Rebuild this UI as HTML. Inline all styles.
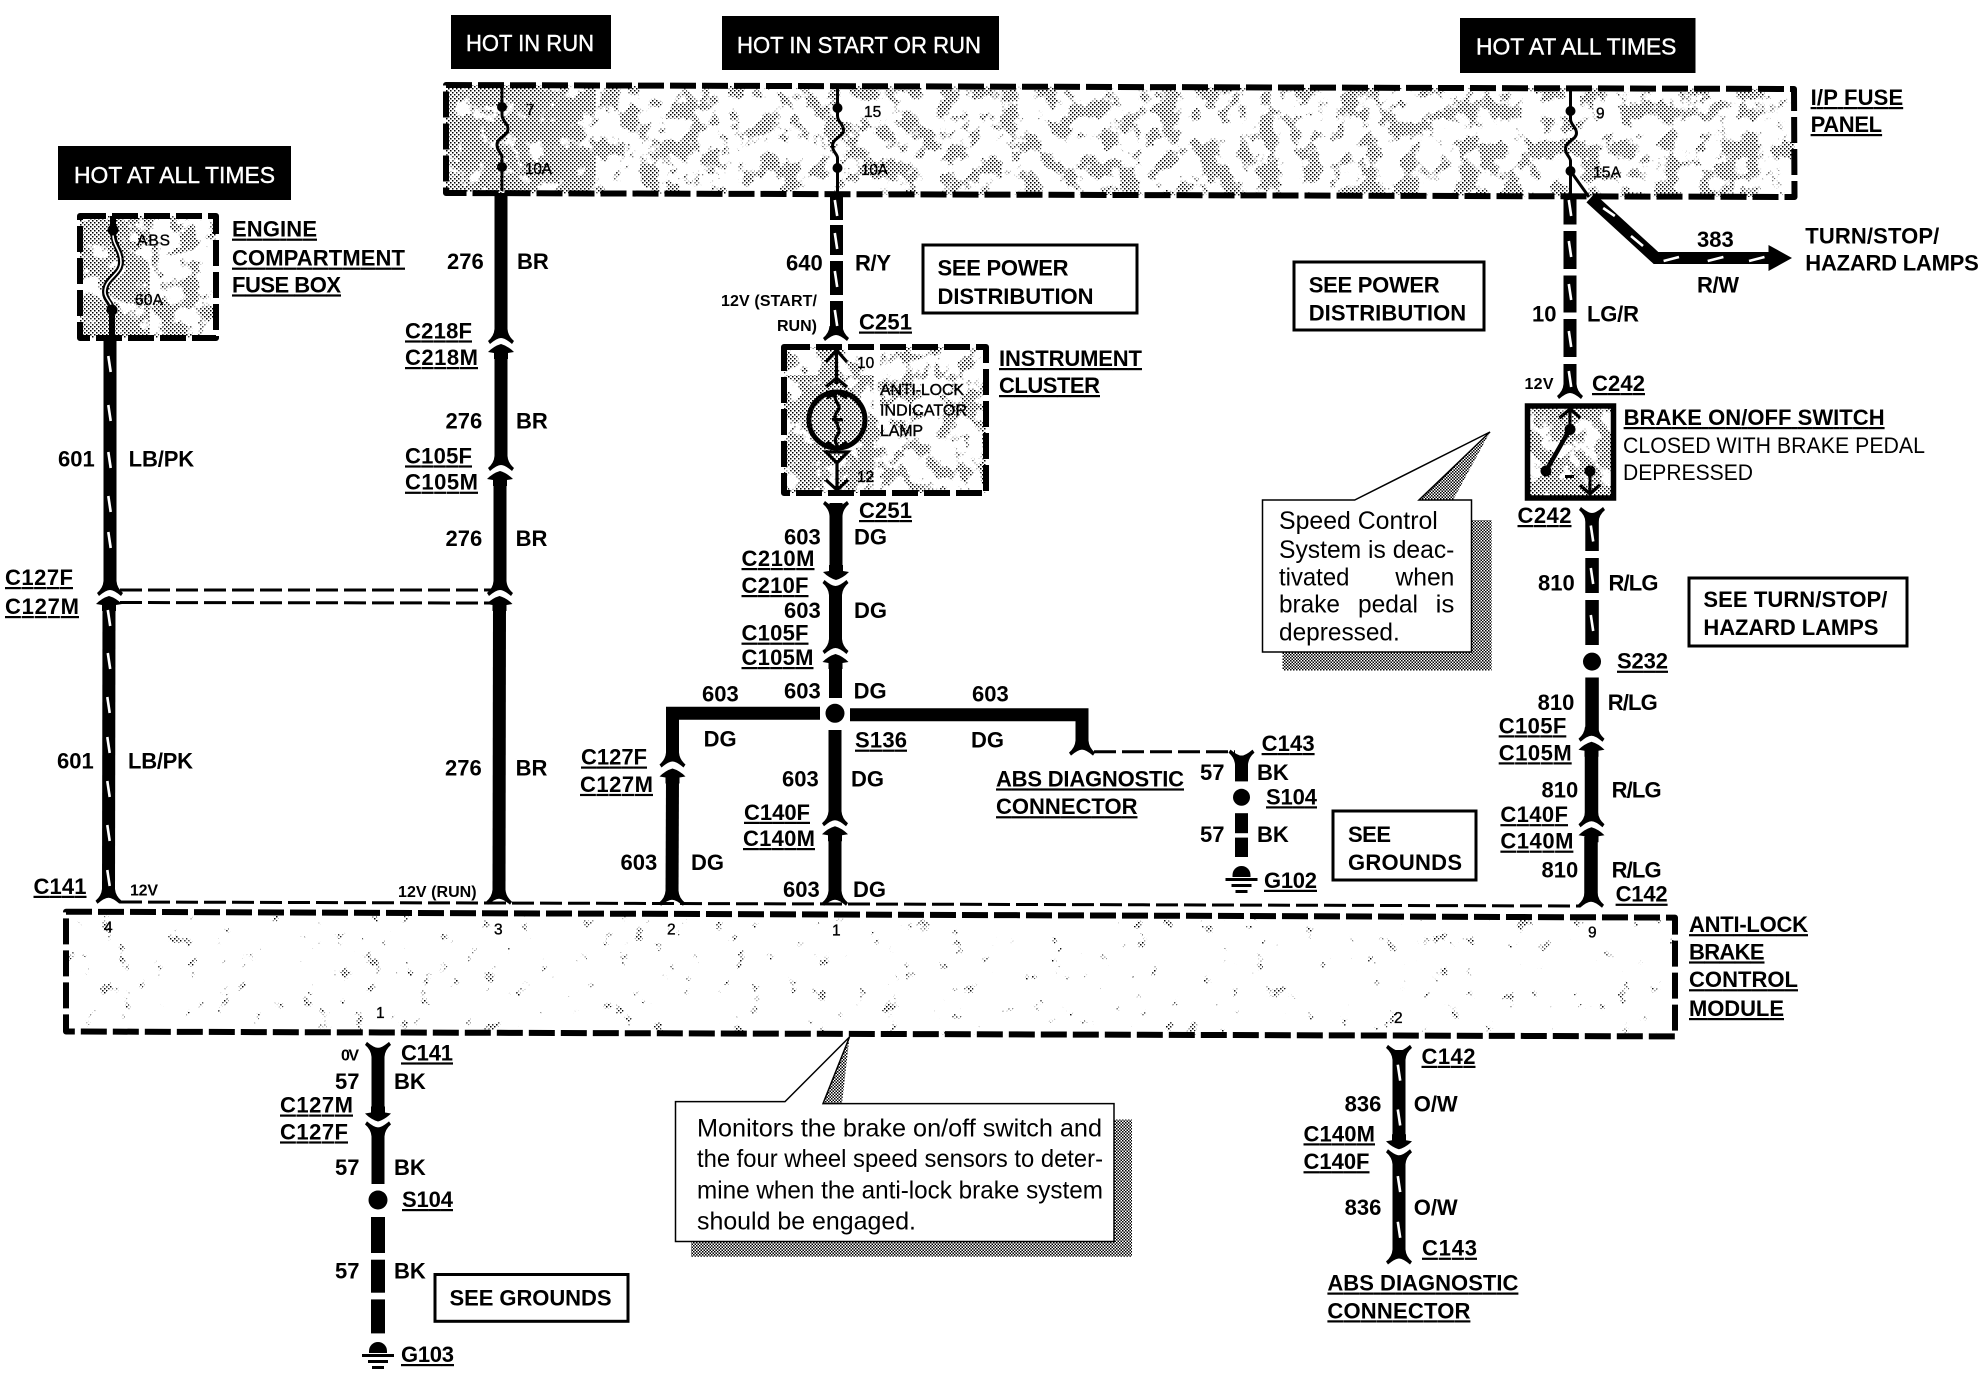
<!DOCTYPE html>
<html><head><meta charset="utf-8"><title>Anti-lock brake wiring diagram</title>
<style>
html,body{margin:0;padding:0;background:#fff}
svg{display:block}
text{font-family:"Liberation Sans",sans-serif;fill:#000}
.b{font-size:22px;font-weight:bold}
.s{font-size:14px;font-weight:bold}
.v{font-size:16px;font-weight:bold}
.f{font-size:15.500px;font-weight:normal;stroke:#000;stroke-width:.35px}
.m{font-size:16px;font-weight:normal;stroke:#000;stroke-width:.4px}
.h{font-size:23px;font-weight:normal;fill:#fff;stroke:#fff;stroke-width:.4px}
.r{font-size:25px;font-weight:normal}
.n{font-size:22px;font-weight:normal}
.u{text-decoration:underline}
.d{fill:none;stroke:#000;stroke-width:6;stroke-dasharray:26 6;stroke-linejoin:round}
.t{fill:none;stroke:#000;stroke-width:3;stroke-dasharray:22 6}
.w{stroke:#000;stroke-width:13;fill:none}
.k{stroke:#fff;stroke-width:2.600;fill:none}
.l{fill:none;stroke:#000;stroke-width:3.200}
.x{fill:#fff;stroke:#000;stroke-width:1.500}
</style></head><body>
<svg xmlns="http://www.w3.org/2000/svg" width="1986" height="1376" viewBox="0 0 1986 1376">
<defs>
<pattern id="dot" width="4" height="4" patternUnits="userSpaceOnUse"><rect width="1.500" height="1.500"/><rect x="2" y="2" width="1.500" height="1.500"/></pattern>
<pattern id="dark" width="3" height="3" patternUnits="userSpaceOnUse"><rect width="1.500" height="1.500"/><rect x="1.500" y="1.500" width="1.500" height="1.500"/></pattern>
<filter id="f1" x="0" y="0" width="100%" height="100%" color-interpolation-filters="sRGB"><feTurbulence type="fractalNoise" baseFrequency="0.05" numOctaves="4" seed="4"/><feColorMatrix values="0 0 0 0 1 0 0 0 0 1 0 0 0 0 1 14 0 0 0 -7.200"/></filter>
<filter id="f2" x="0" y="0" width="100%" height="100%" color-interpolation-filters="sRGB"><feTurbulence type="fractalNoise" baseFrequency="0.06" numOctaves="5" seed="9"/><feColorMatrix values="0 0 0 0 1 0 0 0 0 1 0 0 0 0 1 14 0 0 0 -9.800"/></filter>
<filter id="f3" x="0" y="0" width="100%" height="100%" color-interpolation-filters="sRGB"><feTurbulence type="fractalNoise" baseFrequency="0.05" numOctaves="4" seed="21"/><feColorMatrix values="0 0 0 0 1 0 0 0 0 1 0 0 0 0 1 14 0 0 0 -5.600"/></filter>
<mask id="m1" maskUnits="userSpaceOnUse" x="0" y="0" width="1986" height="1376"><rect x="0" y="0" width="1986" height="1376" filter="url(#f1)"/></mask>
<mask id="m2" maskUnits="userSpaceOnUse" x="0" y="0" width="1986" height="1376"><rect x="0" y="0" width="1986" height="1376" filter="url(#f2)"/></mask>
<mask id="m3" maskUnits="userSpaceOnUse" x="0" y="0" width="1986" height="1376"><rect x="0" y="0" width="1986" height="1376" filter="url(#f3)"/></mask>
<path id="foot" d="M-6.500,-9 L6.500,-9 Q7,-2 13,3 L11,6 Q4,0 0,0 Q-4,0 -11,6 L-13,3 Q-7,-2 -6.500,-9Z"/>
<path id="male" d="M0,0 Q7,2 13,8 L7,9 L7,15 L-7,15 L-7,9 L-13,8 Q-7,2 0,0Z"/>
<g id="fuse"><path d="M0,-23 L0,0 L0,8 C0,14 6,16 6,22 C6,29 -5,30 -5,38 C-5,44 0,46 0,50 L0,84" fill="none" stroke="#000" stroke-width="3"/><circle r="5"/><circle cy="60" r="5"/></g>
<line id="tick" x1="-1.200" y1="-8" x2="1.200" y2="8" stroke="#fff" stroke-width="2.600"/>
<g id="gnd"><path d="M-9,0 A9,9 0 0 1 9,0 L9,2 L-9,2Z"/><rect x="-16" y="3" width="32" height="3"/><rect x="-10" y="9" width="20" height="3"/><rect x="-6" y="15" width="12" height="3"/></g>
</defs>
<rect width="1986" height="1376" fill="#fff"/>

<!-- stipple regions -->
<path d="M446,85 L1794,89 L1794.500,197 L446,193Z" fill="url(#dot)" mask="url(#m1)"/>
<g mask="url(#m3)"><rect x="446" y="88" width="150" height="104" fill="url(#dot)"/><rect x="80" y="216" width="70" height="122" fill="url(#dot)"/><rect x="784" y="375" width="90" height="118" fill="url(#dot)"/><rect x="1527.500" y="406" width="86" height="92" fill="url(#dot)"/></g>
<rect x="80" y="216" width="136" height="122" fill="url(#dot)" mask="url(#m1)"/>
<rect x="784" y="347" width="202" height="146" fill="url(#dot)" mask="url(#m1)"/>
<path d="M66,911.700 L1675,917.600 L1675,1036.400 L66,1031.500Z" fill="url(#dot)" mask="url(#m2)"/>

<!-- dashed containers -->
<path class="d" d="M446,85 L1794,89 L1794.500,197 L446,193Z"/>
<rect class="d" x="80" y="216" width="136" height="122"/>
<rect class="d" x="784" y="347" width="202" height="146"/>
<path class="d" d="M66,911.700 L1675,917.600 L1675,1036.400 L66,1031.500Z"/>

<!-- black headers -->
<rect x="58" y="146" width="233" height="54"/><text class="h" x="74" y="183" textLength="201" lengthAdjust="spacingAndGlyphs">HOT AT ALL TIMES</text>
<rect x="451" y="15" width="160" height="54"/><text class="h" x="466" y="51" textLength="128" lengthAdjust="spacingAndGlyphs">HOT IN RUN</text>
<rect x="722" y="16" width="277" height="54"/><text class="h" x="737" y="53" textLength="244" lengthAdjust="spacingAndGlyphs">HOT IN START OR RUN</text>
<rect x="1460" y="18" width="235.500" height="55"/><text class="h" x="1476" y="54.500" textLength="200.400" lengthAdjust="spacingAndGlyphs">HOT AT ALL TIMES</text>

<!-- fuses -->
<use href="#fuse" x="502" y="107"/><use href="#fuse" x="837.500" y="108"/><use href="#fuse" x="1570.500" y="111"/>
<path d="M113,216 L113,231 C113,245 121,250 121,262 C121,275 105,278 105,292 C105,300 112,303 112,310 L112,338" fill="none" stroke="#000" stroke-width="6"/>
<path d="M113,235 C113,245 121,250 121,262 C121,275 105,278 105,292 C105,298 110,301 111,305" fill="none" stroke="#fff" stroke-width="1.600"/>
<circle cx="113" cy="230" r="5.500"/><circle cx="112" cy="310" r="5.500"/>
<text class="f" x="137" y="245.500" textLength="33">ABS</text><text class="f" x="135" y="305" textLength="28">60A</text>
<text class="f" x="526" y="115">7</text><text class="f" x="525" y="174" textLength="27">10A</text>
<text class="f" x="864" y="117">15</text><text class="f" x="861" y="175" textLength="27">10A</text>
<text class="f" x="1596" y="118.700">9</text><text class="f" x="1593" y="177.700" textLength="28">15A</text>

<!-- thin dashed links -->
<path class="t" d="M120,590 L491,590"/><path class="t" d="M120,602.500 L491,603"/>
<path class="t" d="M120,902 L1580,906"/>
<path class="t" d="M1094,751.700 L1235,751.700"/>

<!-- wire 601 -->
<path class="w" d="M110,338 L110,584"/><path class="w" d="M109,605 L108.500,894"/>
<use href="#foot" x="110" y="590"/><use href="#male" x="109" y="596"/><use href="#foot" x="108.500" y="897.800"/>
<use href="#tick" x="109.500" y="364"/><use href="#tick" x="109.500" y="413"/><use href="#tick" x="109.500" y="460"/><use href="#tick" x="109.500" y="504"/><use href="#tick" x="109.500" y="540"/><use href="#tick" x="109" y="618"/><use href="#tick" x="109" y="661"/><use href="#tick" x="108.500" y="705"/><use href="#tick" x="108.500" y="745"/><use href="#tick" x="108.500" y="789"/><use href="#tick" x="108.500" y="833"/><use href="#tick" x="108.500" y="878"/>

<!-- wire 276 -->
<path class="w" d="M501,193 L501,334"/><path class="w" d="M501,352 L501,460"/><path class="w" d="M500,480 L500,585"/><path class="w" d="M499.500,605 L499,894"/>
<use href="#foot" x="501" y="338"/><use href="#male" x="501" y="344"/><use href="#foot" x="501" y="465"/><use href="#male" x="500" y="471"/><use href="#foot" x="500" y="590"/><use href="#male" x="499.500" y="596"/><use href="#foot" x="499" y="898.700"/>

<!-- wire 640 -->
<g fill="#000"><rect x="830" y="194" width="13" height="26"/><rect x="830" y="225" width="13" height="30"/><rect x="830" y="261" width="13" height="34"/><rect x="830" y="301" width="13" height="32"/></g>
<use href="#foot" x="836" y="335"/>
<use href="#tick" x="836" y="208"/><use href="#tick" x="836" y="241"/><use href="#tick" x="836" y="279"/><use href="#tick" x="836" y="318"/>

<!-- cluster wiring -->
<path class="l" d="M836.500,350 L836.500,384 M826,362 L836.500,350 L847,362 M826,387 L836.500,378 L847,387"/>
<circle cx="837" cy="420" r="28" fill="#fff" stroke="#000" stroke-width="5"/><circle cx="837" cy="420" r="26" fill="url(#dot)"/>
<path class="l" d="M837,392 C830,400 844,405 837,412 C830,420 844,428 837,436 C832,442 840,446 837,449 M827,398 L837,392 L847,398 M827,442 L837,449 L847,442"/>
<rect x="832" y="418" width="11" height="3.500"/>
<path class="l" d="M826,452 L848,452 L837,463Z M837,463 L837,491 M826,480 L837,490 L848,480"/>
<text class="f" x="857" y="368">10</text><text class="f" x="857" y="482">12</text>
<text class="m" x="880" y="395" textLength="84">ANTI-LOCK</text><text class="m" x="880" y="415.600" textLength="87">INDICATOR</text><text class="m" x="880" y="436" textLength="43">LAMP</text>

<!-- wire 603 centre -->
<use href="#foot" transform="matrix(1 0 0 -1 836 507)"/>
<path class="w" d="M836,503 L836,570"/><path class="w" d="M835.500,592 L835.500,643"/><path class="w" d="M835.500,665 L835.500,698"/>
<use href="#male" transform="matrix(1 0 0 -1 836 580)"/><use href="#foot" transform="matrix(1 0 0 -1 835.500 586)"/>
<use href="#foot" x="835.500" y="648"/><use href="#male" x="835.500" y="654"/>
<circle cx="835" cy="713.300" r="9.500"/>
<path class="w" d="M820,713.300 L672.500,713.300 L672.500,757"/><path class="w" d="M850,714.800 L1082,714.800 L1082,745"/>
<use href="#foot" x="672.500" y="761.500"/><use href="#male" x="672.500" y="768.500"/><path class="w" d="M672.500,779.500 L672,895.700"/><use href="#foot" x="672" y="899.700"/>
<use href="#foot" x="1082" y="749.600"/>
<path class="w" d="M835,730 L835,815.300"/><use href="#foot" x="835" y="820.200"/><use href="#male" x="835" y="826.200"/><path class="w" d="M835,839 L835,895.700"/><use href="#foot" x="835" y="899.700"/>

<!-- right ground branch -->
<use href="#foot" transform="matrix(1 0 0 -1 1241.500 755.600)"/>
<rect x="1235" y="755.600" width="13" height="25.800"/><circle cx="1241.500" cy="797.300" r="8.500"/><rect x="1235" y="813.200" width="13" height="20"/><rect x="1235" y="837.600" width="13" height="19.400"/>
<use href="#gnd" x="1241.500" y="875"/>

<!-- wire 10 & 383 -->
<g><rect x="1563.500" y="198" width="13" height="26.500"/><rect x="1563.500" y="231" width="13" height="38"/><rect x="1563.500" y="275.500" width="13" height="37"/><rect x="1563.500" y="319" width="13" height="38"/><rect x="1563.500" y="364" width="13" height="27"/></g>
<use href="#foot" x="1570" y="393"/>
<use href="#tick" x="1570" y="208"/><use href="#tick" x="1570" y="249"/><use href="#tick" x="1570" y="292"/><use href="#tick" x="1570" y="339"/><use href="#tick" x="1570" y="379"/>
<path d="M1570.500,171 L1589,197" stroke="#000" stroke-width="3" fill="none"/>
<path d="M1590.500,198 L1656,258 L1769,258" fill="none" stroke="#000" stroke-width="12"/>
<path d="M1768.500,245 L1792,258 L1768.500,271Z"/>
<path class="k" d="M1603.200,208 L1614.800,216 M1631,236 L1643,246 M1663.600,261 L1679,257 M1707.700,261 L1723.400,257 M1749,261 L1764.500,257"/>

<!-- switch -->
<rect x="1527.500" y="406" width="86" height="92" fill="none" stroke="#000" stroke-width="5.500"/>
<path class="l" d="M1570,410 L1570,429 M1559.500,418 L1570,409 L1580.500,418"/>
<path d="M1570,429 L1546,471" stroke="#000" stroke-width="4.500"/>
<circle cx="1570" cy="429.500" r="5.500"/><circle cx="1546" cy="471" r="5.500"/><circle cx="1590" cy="471" r="5.500"/>
<rect x="1565" y="475" width="9" height="3"/>
<path class="l" d="M1590,471 L1590,494 M1580,485 L1590,494 L1600,485"/>

<!-- wire 810 -->
<use href="#foot" transform="matrix(1 0 0 -1 1592 513)"/>
<rect x="1585.300" y="513" width="13.500" height="38"/><rect x="1585.300" y="558" width="13.500" height="35"/><rect x="1585.300" y="600" width="13.500" height="45"/>
<use href="#tick" x="1592" y="533.500"/><use href="#tick" x="1592" y="576"/><use href="#tick" x="1592" y="623"/>
<circle cx="1592" cy="661.600" r="9"/>
<rect x="1585.300" y="677.500" width="13.500" height="55"/><use href="#foot" x="1591.500" y="735.700"/><use href="#male" x="1591.500" y="741.700"/>
<path d="M1591.500,750 L1591.500,817.200" class="w" style="stroke-width:13.500"/><use href="#foot" x="1591.500" y="821.200"/><use href="#male" x="1591.500" y="827.200"/>
<path d="M1591,837 L1591,897.800" class="w" style="stroke-width:13.500"/><use href="#foot" x="1591" y="901.800"/>

<!-- wire 57 lower -->
<use href="#foot" transform="matrix(1 0 0 -1 378 1047.900)"/><path class="w" d="M378,1047.900 L378,1109.500"/>
<use href="#male" transform="matrix(1 0 0 -1 378 1121.500)"/><use href="#foot" transform="matrix(1 0 0 -1 378 1127.400)"/>
<path class="w" d="M378,1131.400 L378,1184"/><circle cx="378" cy="1200" r="9.500"/>
<rect x="371" y="1217" width="14" height="36"/><rect x="371" y="1259.700" width="14" height="33"/><rect x="371" y="1299.400" width="14" height="34"/>
<use href="#gnd" x="378" y="1351"/>

<!-- wire 836 -->
<use href="#foot" transform="matrix(1 0 0 -1 1399 1050.900)"/><path class="w" d="M1399,1050 L1399,1137.400"/>
<use href="#male" transform="matrix(1 0 0 -1 1399 1149.300)"/><use href="#foot" transform="matrix(1 0 0 -1 1399 1155.300)"/>
<path class="w" d="M1399,1157.300 L1399,1254.600"/><use href="#foot" x="1399" y="1258.500"/>
<use href="#tick" x="1399" y="1072.700"/><use href="#tick" x="1399" y="1117.500"/><use href="#tick" x="1399" y="1184.100"/><use href="#tick" x="1399" y="1229.800"/>

<!-- callouts -->
<path d="M1282.500,520 H1491.600 V670.500 H1282.500Z" fill="url(#dark)"/>
<path class="x" d="M1262.500,500 L1354.700,500 L1490,432 L1419,500 L1471.500,500 L1471.500,652 L1262.500,652Z"/>
<path d="M1490,432 L1419,500 L1453,500Z" fill="url(#dark)"/>
<text class="r" x="1279" y="529" textLength="158.800" lengthAdjust="spacingAndGlyphs">Speed Control</text>
<text class="r" x="1279" y="558" textLength="175.400" lengthAdjust="spacingAndGlyphs">System is deac-</text>
<text class="r" x="1279" y="585.700" textLength="70.400" lengthAdjust="spacingAndGlyphs">tivated</text><text class="r" x="1395.400" y="585.700" textLength="59" lengthAdjust="spacingAndGlyphs">when</text>
<text class="r" x="1279" y="612.500" textLength="61" lengthAdjust="spacingAndGlyphs">brake</text><text class="r" x="1358" y="612.500" textLength="60" lengthAdjust="spacingAndGlyphs">pedal</text><text class="r" x="1435.600" y="612.500" textLength="18.800" lengthAdjust="spacingAndGlyphs">is</text>
<text class="r" x="1279" y="640.600" textLength="120.800" lengthAdjust="spacingAndGlyphs">depressed.</text>

<path d="M691,1119.500 H1132 V1256.700 H691Z" fill="url(#dark)"/>
<path class="x" d="M675.500,1101.600 L785,1101.600 L849.500,1037 L823,1103.600 L1114,1103.600 L1114,1241.500 L675.500,1241.500Z"/>
<path d="M849.500,1037 L823,1103.600 L842,1103.600Z" fill="url(#dark)"/>
<text class="r" x="697" y="1136.400" textLength="405" lengthAdjust="spacingAndGlyphs">Monitors the brake on/off switch and</text>
<text class="r" x="697" y="1167.200" textLength="406" lengthAdjust="spacingAndGlyphs">the four wheel speed sensors to deter-</text>
<text class="r" x="697" y="1198.400" textLength="406" lengthAdjust="spacingAndGlyphs">mine when the anti-lock brake system</text>
<text class="r" x="697" y="1229.500" textLength="219" lengthAdjust="spacingAndGlyphs">should be engaged.</text>

<!-- SEE boxes -->
<g fill="none" stroke="#000" stroke-width="3"><rect x="923" y="245" width="214" height="68"/><rect x="1294" y="262" width="190" height="68"/><rect x="1689" y="578" width="218" height="68"/><rect x="1333" y="811" width="143" height="69"/><rect x="435" y="1274.500" width="193" height="46.800"/></g>
<text class="b" x="937.500" y="275.400" textLength="131">SEE POWER</text><text class="b" x="937.500" y="304" textLength="156">DISTRIBUTION</text>
<text class="b" x="1308.700" y="292.400" textLength="131">SEE POWER</text><text class="b" x="1308.700" y="320.500" textLength="157.500">DISTRIBUTION</text>
<text class="b" x="1703.400" y="607" textLength="184">SEE TURN/STOP/</text><text class="b" x="1703.400" y="635" textLength="175">HAZARD LAMPS</text>
<text class="b" x="1348" y="842" textLength="43">SEE</text><text class="b" x="1348" y="870" textLength="114">GROUNDS</text>
<text class="b" x="449.500" y="1305.500" textLength="162">SEE GROUNDS</text>

<!-- component names -->
<text class="b u" x="232" y="236.600" textLength="85">ENGINE</text><text class="b u" x="232" y="265.600" textLength="173">COMPARTMENT</text><text class="b u" x="232" y="292.400" textLength="109">FUSE BOX</text>
<text class="b u" x="1810.600" y="105" textLength="92.600">I/P FUSE</text><text class="b u" x="1810.600" y="132" textLength="71.500">PANEL</text>
<text class="b u" x="999" y="366" textLength="143">INSTRUMENT</text><text class="b u" x="999" y="393" textLength="101">CLUSTER</text>
<text class="b u" x="1623.600" y="425" textLength="261">BRAKE ON/OFF SWITCH</text>
<text class="n" x="1623" y="453" textLength="302" lengthAdjust="spacingAndGlyphs">CLOSED WITH BRAKE PEDAL</text><text class="n" x="1623" y="480" textLength="130" lengthAdjust="spacingAndGlyphs">DEPRESSED</text>
<text class="b" x="1805.300" y="243.300" textLength="134">TURN/STOP/</text><text class="b" x="1805.300" y="270.500" textLength="173.500">HAZARD LAMPS</text>
<text class="b u" x="996" y="786.400" textLength="188">ABS DIAGNOSTIC</text><text class="b u" x="996" y="814.200" textLength="141.500">CONNECTOR</text>
<text class="b u" x="1327.400" y="1290.500" textLength="191">ABS DIAGNOSTIC</text><text class="b u" x="1327.400" y="1318.300" textLength="143">CONNECTOR</text>
<text class="b u" x="1689" y="932.100" textLength="119">ANTI-LOCK</text><text class="b u" x="1689" y="959.400" textLength="75.500">BRAKE</text><text class="b u" x="1689" y="987.200" textLength="109">CONTROL</text><text class="b u" x="1689" y="1016" textLength="95">MODULE</text>

<!-- connector ids -->
<text class="b u" x="405" y="338.400" textLength="67">C218F</text><text class="b u" x="405" y="365" textLength="73">C218M</text>
<text class="b u" x="405" y="463.400" textLength="67">C105F</text><text class="b u" x="405" y="489.700" textLength="73">C105M</text>
<text class="b u" x="5" y="585" textLength="68">C127F</text><text class="b u" x="5" y="614" textLength="74">C127M</text>
<text class="b u" x="581" y="764.500" textLength="66">C127F</text><text class="b u" x="580" y="791.900" textLength="73">C127M</text>
<text class="b u" x="33.500" y="893.800" textLength="53">C141</text>
<text class="b u" x="859" y="329.500" textLength="53">C251</text><text class="b u" x="859" y="518" textLength="53">C251</text>
<text class="b u" x="741.500" y="566" textLength="73">C210M</text><text class="b u" x="741.500" y="593" textLength="67">C210F</text>
<text class="b u" x="741.500" y="640.600" textLength="67">C105F</text><text class="b u" x="741.500" y="665" textLength="72">C105M</text>
<text class="b u" x="855" y="747.600" textLength="52">S136</text>
<text class="b u" x="744" y="819.800" textLength="66">C140F</text><text class="b u" x="743" y="846" textLength="72">C140M</text>
<text class="b u" x="1261.600" y="751" textLength="53">C143</text><text class="b u" x="1266" y="804.300" textLength="51">S104</text><text class="b u" x="1264" y="887.800" textLength="53">G102</text>
<text class="b u" x="1592" y="391" textLength="53">C242</text><text class="b u" x="1517.500" y="523" textLength="54">C242</text>
<text class="b u" x="1617" y="668.700" textLength="51">S232</text>
<text class="b u" x="1498.700" y="733.300" textLength="67.600">C105F</text><text class="b u" x="1498.700" y="760.300" textLength="73">C105M</text>
<text class="b u" x="1500.400" y="822.100" textLength="67.600">C140F</text><text class="b u" x="1500.400" y="848.600" textLength="73">C140M</text>
<text class="b u" x="1615.600" y="901.700" textLength="52">C142</text>
<text class="b u" x="401" y="1060.400" textLength="52">C141</text>
<text class="b u" x="280" y="1112.500" textLength="73">C127M</text><text class="b u" x="280" y="1139.400" textLength="68">C127F</text>
<text class="b u" x="402" y="1207" textLength="51">S104</text><text class="b u" x="401" y="1362" textLength="53">G103</text>
<text class="b u" x="1421.500" y="1063.800" textLength="54">C142</text><text class="b u" x="1303.500" y="1141.300" textLength="71.500">C140M</text><text class="b u" x="1303.500" y="1169.200" textLength="66">C140F</text><text class="b u" x="1422" y="1255.700" textLength="55">C143</text>

<!-- wire numbers and colours -->
<text class="b" x="58" y="466.500">601</text><text class="b" x="128.600" y="466.500" textLength="65.600">LB/PK</text>
<text class="b" x="57" y="768.500">601</text><text class="b" x="128" y="768.500" textLength="65">LB/PK</text>
<text class="b" x="447" y="269">276</text><text class="b" x="517" y="269">BR</text>
<text class="b" x="445.500" y="428.600">276</text><text class="b" x="516" y="428.600">BR</text>
<text class="b" x="445.500" y="546">276</text><text class="b" x="515.600" y="546">BR</text>
<text class="b" x="445" y="775.500">276</text><text class="b" x="515.600" y="775.500">BR</text>
<text class="b" x="786" y="270.500">640</text><text class="b" x="855" y="270.500" textLength="36">R/Y</text>
<text class="b" x="784" y="544.600">603</text><text class="b" x="854" y="544.600">DG</text>
<text class="b" x="784" y="618">603</text><text class="b" x="854" y="618">DG</text>
<text class="b" x="784" y="698.600">603</text><text class="b" x="853.600" y="698.600">DG</text>
<text class="b" x="702" y="701.300">603</text><text class="b" x="972" y="701.300">603</text>
<text class="b" x="703.600" y="746.600">DG</text><text class="b" x="971" y="747.600">DG</text>
<text class="b" x="782" y="786.400">603</text><text class="b" x="851" y="786.400">DG</text>
<text class="b" x="620.500" y="870">603</text><text class="b" x="691" y="870">DG</text>
<text class="b" x="783" y="896.800">603</text><text class="b" x="853" y="896.800">DG</text>
<text class="b" x="1200" y="779.800">57</text><text class="b" x="1257" y="779.800">BK</text>
<text class="b" x="1200" y="842">57</text><text class="b" x="1257" y="842">BK</text>
<text class="b" x="1532" y="321.400">10</text><text class="b" x="1587" y="321.400" textLength="52">LG/R</text>
<text class="b" x="1697" y="247">383</text><text class="b" x="1697" y="292.400" textLength="42">R/W</text>
<text class="b" x="1538" y="590.600">810</text><text class="b" x="1608.500" y="590.600" textLength="50">R/LG</text>
<text class="b" x="1537.600" y="710.200">810</text><text class="b" x="1607.700" y="710.200" textLength="50">R/LG</text>
<text class="b" x="1541.500" y="797.600">810</text><text class="b" x="1611.600" y="797.600" textLength="50">R/LG</text>
<text class="b" x="1541.500" y="877.600">810</text><text class="b" x="1611.600" y="877.600" textLength="50">R/LG</text>
<text class="b" x="335" y="1089.200">57</text><text class="b" x="394" y="1089.200">BK</text>
<text class="b" x="335" y="1175">57</text><text class="b" x="394" y="1175">BK</text>
<text class="b" x="335" y="1278.500">57</text><text class="b" x="394" y="1278.500">BK</text>
<text class="b" x="1344.600" y="1111.500">836</text><text class="b" x="1413.700" y="1111.500" textLength="44">O/W</text>
<text class="b" x="1344.600" y="1215">836</text><text class="b" x="1413.700" y="1215" textLength="44">O/W</text>

<!-- small voltages and pins -->
<text class="v" x="721" y="306" textLength="96">12V (START/</text><text class="v" x="777" y="331" textLength="40">RUN)</text>
<text class="v" x="1524.500" y="389" textLength="29">12V</text>
<text class="v" x="130" y="895.300" textLength="28">12V</text><text class="v" x="398" y="896.800" textLength="78.600">12V (RUN)</text>
<text class="v" x="341" y="1060.400" textLength="18">0V</text>
<text class="f" x="104" y="932.500">4</text><text class="f" x="494" y="934.500">3</text><text class="f" x="667" y="934.500">2</text><text class="f" x="832" y="935.500">1</text><text class="f" x="1588" y="937.500">9</text>
<text class="f" x="376" y="1018">1</text><text class="f" x="1394" y="1023">2</text>
</svg>
</body></html>
